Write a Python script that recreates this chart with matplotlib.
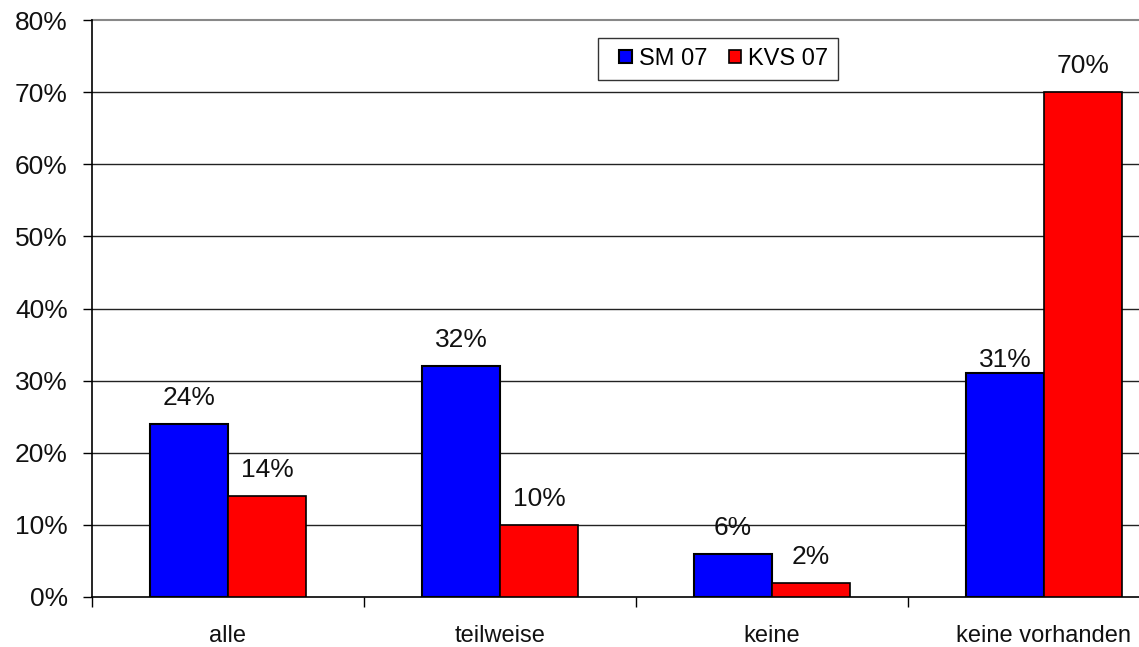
import numpy as np
import matplotlib

matplotlib.use("Agg")
import matplotlib.pyplot as plt
from matplotlib.patches import Rectangle
from matplotlib.legend_handler import HandlerPatch
from matplotlib.ticker import FixedLocator, PercentFormatter

plt.rcParams['font.family'] = ['Liberation Sans', 'DejaVu Sans']

# data
categories = ["alle", "teilweise", "keine", "keine vorhanden"]
sm07 = [24, 32, 6, 31]
kvs07 = [14, 10, 2, 70]
series_names = ["SM 07", "KVS 07"]
yticks = [0, 10, 20, 30, 40, 50, 60, 70, 80]


def square_right(legend, orig_handle, xdescent, ydescent, width, height, fontsize):
    # small square key pushed to the right end of the handle box
    return Rectangle((width - height - xdescent, -ydescent), height, height)


fig = plt.figure(figsize=(11.39, 6.47), dpi=100)
# axes runs past the right edge of the figure on purpose
ax = fig.add_axes([92 / 1139, 50 / 647, 1088 / 1139, 577 / 647])

x = np.arange(len(categories))
w = 0.287
b1 = ax.bar(x - w / 2, sm07, w, color="#0000ff", edgecolor="black", linewidth=1.5,
            label=series_names[0], zorder=3)
b2 = ax.bar(x + w / 2, kvs07, w, color="#ff0000", edgecolor="black", linewidth=1.2,
            label=series_names[1], zorder=3)

# value labels above bars
for bars, vals in ((b1, sm07), (b2, kvs07)):
    for rect, v in zip(bars, vals):
        off = 1 if (bars is b1 and v == 31) else 10
        ax.annotate(f"{v}%", (rect.get_x() + rect.get_width() / 2, v),
                    xytext=(0, off), textcoords="offset points",
                    ha="center", va="bottom", fontsize=19, color="#111111", zorder=4)

ax.set_xlim(-0.5, 3.5)
ax.set_ylim(0, 80)
ax.set_yticks(yticks)
ax.yaxis.set_major_formatter(PercentFormatter(decimals=0))
ax.tick_params(axis="y", labelsize=19, length=6.5, width=1, direction="out", pad=11,
               labelcolor="#111111")

ax.set_xticks(x)
ax.set_xticklabels(categories)
ax.tick_params(axis="x", which="major", length=0, labelsize=17, pad=20, labelcolor="#111111")
ax.xaxis.set_minor_locator(FixedLocator([-0.5, 0.5, 1.5, 2.5]))
ax.tick_params(axis="x", which="minor", length=7, width=1, direction="out")

for y in yticks[1:-1]:
    ax.axhline(y, color="#222222", linewidth=1, zorder=1)
ax.axhline(80, color="#888888", linewidth=1.5, zorder=1, clip_on=False)

ax.spines["top"].set_visible(False)
ax.spines["right"].set_visible(False)
ax.spines["left"].set_linewidth(1.2)
ax.spines["bottom"].set_linewidth(1.2)

leg = ax.legend(handles=[b1[0], b2[0]], labels=series_names,
                loc="upper left", bbox_to_anchor=(506 / 1088, 1 - 18 / 577), ncol=2,
                fontsize=17, frameon=True, fancybox=False, edgecolor="black",
                handlelength=1.0, handleheight=0.45, handletextpad=0.3,
                columnspacing=0.45, borderpad=0.42, borderaxespad=0,
                handler_map={Rectangle: HandlerPatch(patch_func=square_right)})
leg.get_frame().set_linewidth(1)

fig.savefig("out.png", dpi=100)
